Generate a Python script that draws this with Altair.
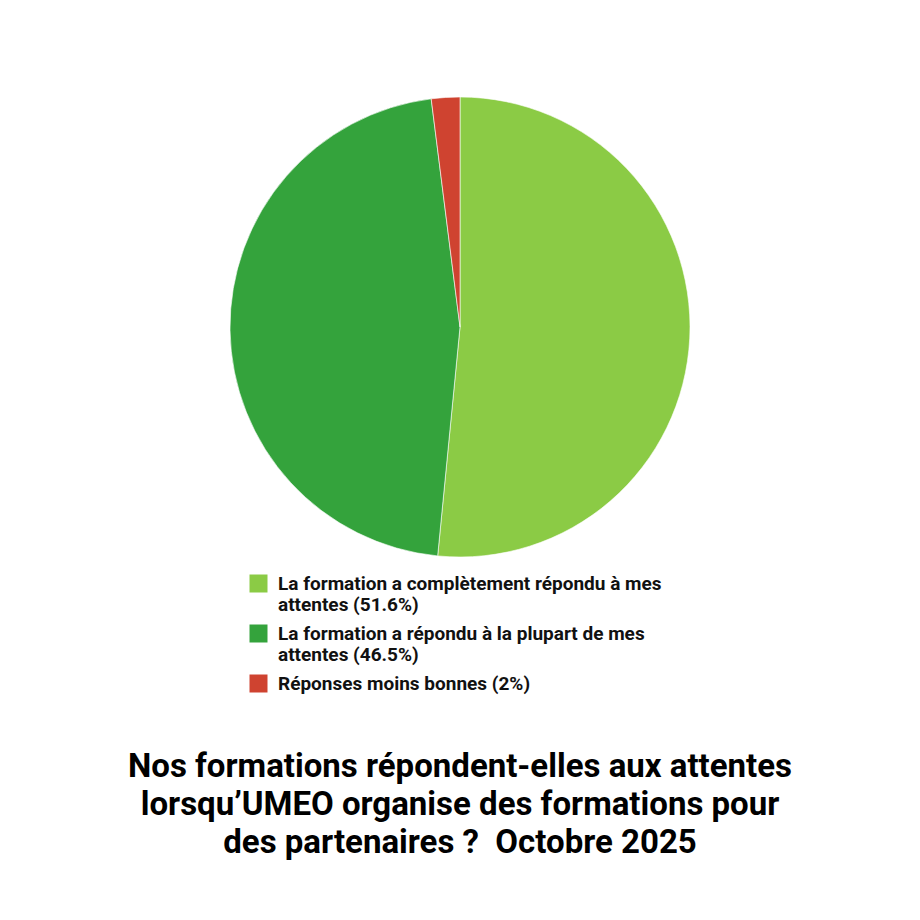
import altair as alt
import pandas as pd

categories = [
    "La formation a complètement répondu à mes\nattentes (51.6%)",
    "La formation a répondu à la plupart de mes\nattentes (46.5%)",
    "Réponses moins bonnes (2%)",
]
values = [51.6, 46.5, 2.0]
colors = ["#8BCB45", "#34A33C", "#CF4330"]
order = [0, 1, 2]

df = pd.DataFrame({"cat": categories, "val": values, "ord": order})

title_lines = [
    "Nos formations répondent-elles aux attentes",
    "lorsqu’UMEO organise des formations pour",
    "des partenaires ?\u00a0 Octobre 2025",
]

chart = (
    alt.Chart(df)
    .mark_arc(stroke="white", strokeWidth=0.6)
    .encode(
        theta=alt.Theta("val:Q", stack=True),
        color=alt.Color(
            "cat:N",
            scale=alt.Scale(domain=categories, range=colors),
            legend=alt.Legend(
                title=None,
                orient="none",
                legendX=19,
                legendY=477,
                symbolType="square",
                symbolSize=324,
                symbolStrokeWidth=0,
                labelFont="Roboto",
                labelFontWeight="bold",
                labelFontSize=19,
                labelColor="#111111",
                labelLimit=500,
                labelExpr="split(datum.label, '\\n')",
                rowPadding=9,
                labelOffset=10,
            ),
        ),
        order=alt.Order("ord:Q"),
    )
    .properties(
        width=460,
        height=460,
        autosize=alt.AutoSizeParams(type="none"),
        padding={"left": 222, "top": 89, "right": 222, "bottom": 355},
        title=alt.TitleParams(
            text=title_lines,
            orient="bottom",
            anchor="middle",
            font="Roboto",
            fontWeight="bold",
            fontSize=33,
            lineHeight=38,
            color="#000000",
            offset=57,
        ),
    )
    .configure_view(stroke=None)
)

chart.save("out.html", embed_options={"renderer": "svg", "actions": False})
